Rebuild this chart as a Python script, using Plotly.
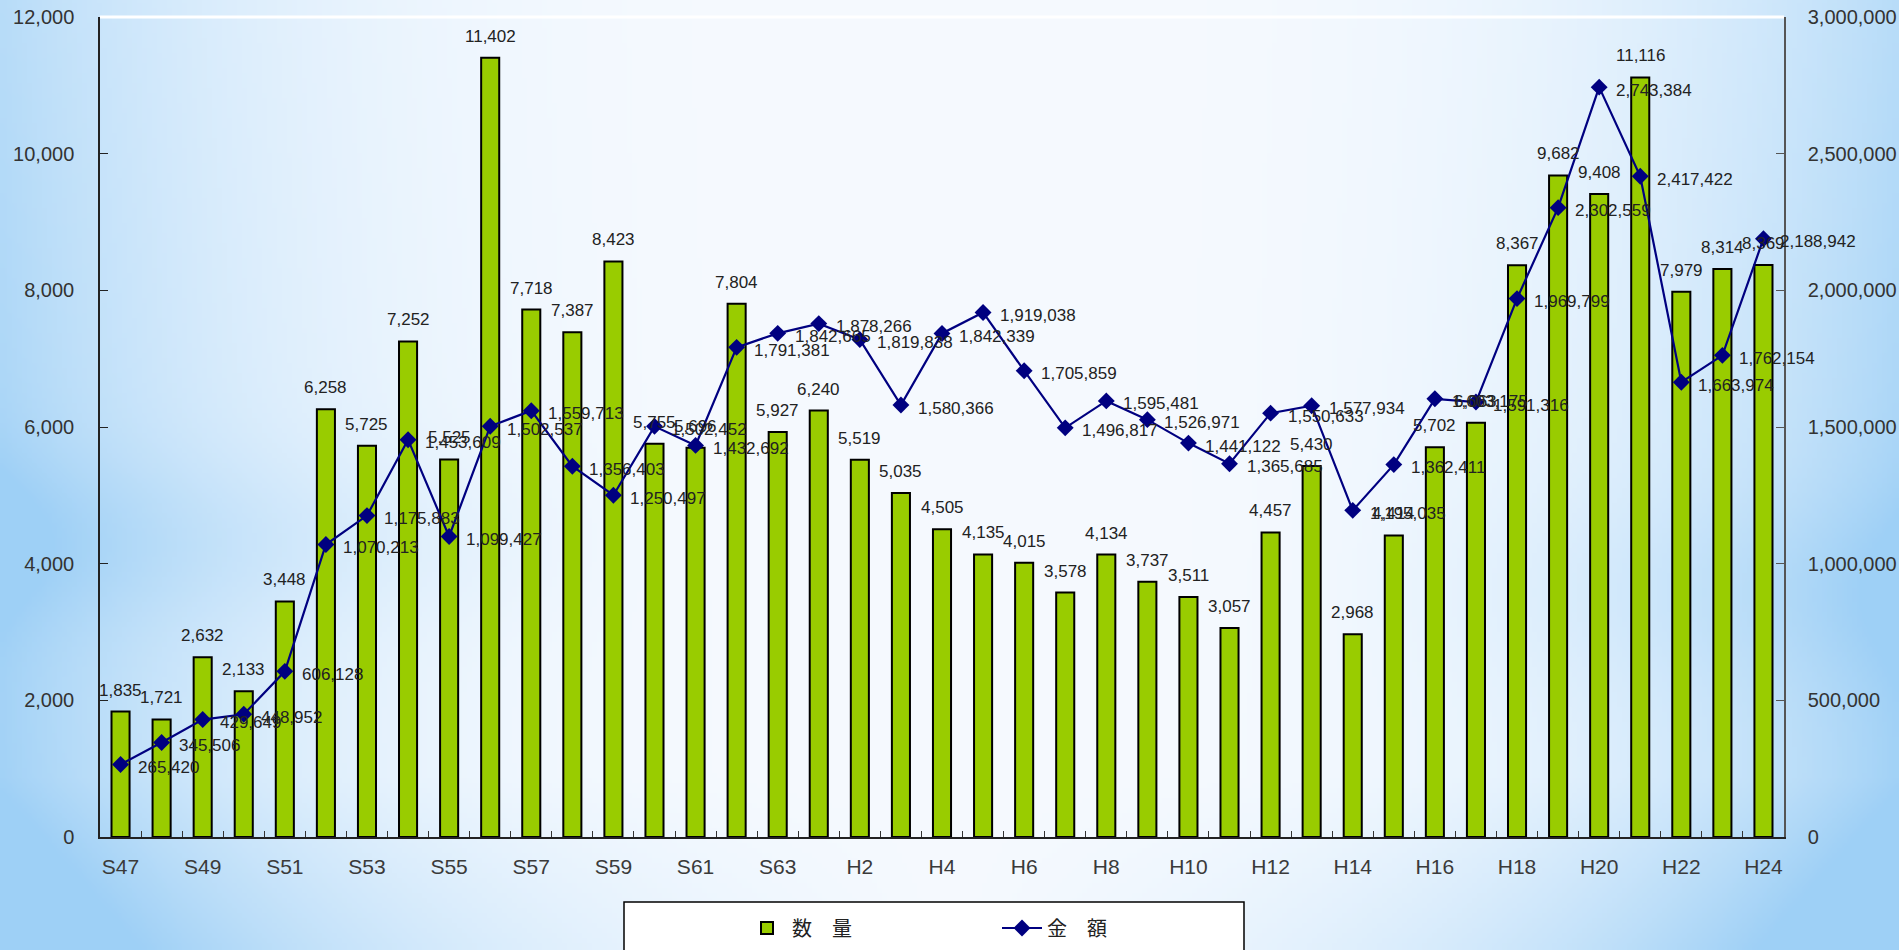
import zlib, struct, base64
import numpy as np
import plotly.graph_objects as go

# ---------------- data ----------------
categories = ['S47', 'S48', 'S49', 'S50', 'S51', 'S52', 'S53', 'S54', 'S55', 'S56',
              'S57', 'S58', 'S59', 'S60', 'S61', 'S62', 'S63',
              'H1', 'H2', 'H3', 'H4', 'H5', 'H6', 'H7', 'H8', 'H9', 'H10', 'H11', 'H12',
              'H13', 'H14', 'H15', 'H16', 'H17', 'H18', 'H19', 'H20', 'H21', 'H22', 'H23', 'H24']

quantity = [1835, 1721, 2632, 2133, 3448, 6258, 5725, 7252, 5525, 11402,
            7718, 7387, 8423, 5755, 5696, 7804, 5927,
            6240, 5519, 5035, 4505, 4135, 4015, 3578, 4134, 3737, 3511, 3057, 4457,
            5430, 2968, 4414, 5702, 6063, 8367, 9682, 9408, 11116, 7979, 8314, 8369]

amount = [265420, 345506, 429649, 448952, 606128, 1070213, 1175883, 1453609, 1099427, 1502537,
          1559713, 1356403, 1250497, 1502452, 1432692, 1791381, 1842665,
          1878266, 1819838, 1580366, 1842339, 1919038, 1705859, 1496817, 1595481, 1526971,
          1441122, 1365685, 1550633, 1577934, 1195035, 1362411, 1603175, 1591316, 1969799,
          2302559, 2743384, 2417422, 1663974, 1762154, 2188942]

series_names = ['数　量', '金　額']

# ---------------- background gradient (PNG data URI) ----------------
def png_data_uri(arr):
    h, w, _ = arr.shape
    raw = b''.join(b'\x00' + arr[r].tobytes() for r in range(h))

    def chunk(tag, data):
        c = struct.pack('>I', len(data)) + tag + data
        return c + struct.pack('>I', zlib.crc32(tag + data) & 0xffffffff)

    png = (b'\x89PNG\r\n\x1a\n'
           + chunk(b'IHDR', struct.pack('>IIBBBBB', w, h, 8, 2, 0, 0, 0))
           + chunk(b'IDAT', zlib.compress(raw, 9))
           + chunk(b'IEND', b''))
    return 'data:image/png;base64,' + base64.b64encode(png).decode()

W, H = 380, 190
u = np.linspace(0, 1, W)[None, :]
v = np.linspace(0, 1, H)[:, None]
t = np.abs(u - 0.5) * 2
f = (t ** 3.2) * (0.7 + 0.3 * v)
f = f + 0.28 * np.exp(-((v - 0.57) / 0.09) ** 2) * np.clip(1 - u / 0.35, 0, 1)
f = f + 0.22 * np.exp(-((v - 0.62) / 0.10) ** 2) * np.clip((u - 0.7) / 0.3, 0, 1)
f = f + 0.45 * np.clip((v - 0.82) / 0.18, 0, 1) * t
f = np.clip(f, 0, 1)
white = np.array([246, 250, 255], dtype=float)
blue = np.array([158, 208, 246], dtype=float)
img = (white[None, None, :] * (1 - f[..., None]) + blue[None, None, :] * f[..., None]).astype(np.uint8)
bg_uri = png_data_uri(img)

# ---------------- figure ----------------
FIG_W, FIG_H = 1899, 950
ML, MR, MT, MB = 100, 115, 17, 113
PW, PH = FIG_W - ML - MR, FIG_H - MT - MB

def px_x(p):
    return (p - ML) / PW

def px_y(p):
    return (FIG_H - MB - p) / PH

label_font = dict(family='Liberation Sans, Arial, sans-serif', size=17, color='#222222')
tick_font = dict(family='Liberation Sans, Arial, sans-serif', size=20, color='#333333')
xtick_font = dict(family='Liberation Sans, Arial, sans-serif', size=21, color='#3a3a3a')

fig = go.Figure()
fig.add_trace(go.Bar(
    x=categories, y=quantity, name=series_names[0], yaxis='y',
    marker=dict(color='#99cc00', line=dict(color='#000000', width=2)),
))
fig.add_trace(go.Scatter(
    x=categories, y=amount, name=series_names[1], yaxis='y2',
    mode='lines+markers',
    line=dict(color='#000080', width=2.2),
    marker=dict(symbol='diamond', size=13, color='#000080'),
))

for c, q in zip(categories, quantity):
    fig.add_annotation(x=c, y=q, xref='x', yref='y', text=f'{q:,}', showarrow=False,
                       yanchor='bottom', yshift=10, font=label_font)

for c, a in zip(categories, amount):
    fig.add_annotation(x=c, y=a, xref='x', yref='y2', text=f'{a:,}', showarrow=False,
                       xanchor='left', yanchor='middle', xshift=15, yshift=-3, font=label_font)

fig.update_layout(
    width=FIG_W, height=FIG_H,
    margin=dict(l=ML, r=MR, t=MT, b=MB, pad=0, autoexpand=False),
    paper_bgcolor='#f4f9fe', plot_bgcolor='rgba(0,0,0,0)',
    bargap=0.56,
    showlegend=True,
    legend=dict(orientation='h', x=px_x(742), y=px_y(928), xanchor='left', yanchor='middle',
                bgcolor='rgba(0,0,0,0)', borderwidth=0, entrywidth=200, entrywidthmode='pixels',
                font=dict(family='Noto Sans CJK JP, sans-serif', size=20, color='#222222'),
                itemwidth=40, traceorder='normal'),
    xaxis=dict(type='category', tickmode='array', tickvals=categories,
               ticktext=[c if i % 2 == 0 else '' for i, c in enumerate(categories)],
               tickson='boundaries', ticks='inside', ticklen=6, tickcolor='#333333',
               showline=True, linecolor='#222222', linewidth=1.5, showgrid=False,
               tickfont=xtick_font, ticklabelstandoff=10, tickangle=0, automargin=False,
               range=[-0.5, len(categories) - 0.5]),
    yaxis=dict(range=[0, 12000], dtick=2000, tickformat=',', ticks='inside', ticklen=8,
               tickcolor='#222222', showline=True, linecolor='#222222', linewidth=1.5,
               showgrid=False, zeroline=False, tickfont=tick_font, ticklabelstandoff=20,
               automargin=False),
    yaxis2=dict(range=[0, 3000000], dtick=500000, tickformat=',', overlaying='y', side='right',
                ticks='inside', ticklen=8, tickcolor='#555555', showline=True,
                linecolor='#555555', linewidth=1.5, showgrid=False, zeroline=False,
                tickfont=tick_font, ticklabelstandoff=18, automargin=False),
    images=[dict(source=bg_uri, xref='paper', yref='paper',
                 x=px_x(0), y=px_y(0), sizex=FIG_W / PW, sizey=FIG_H / PH,
                 xanchor='left', yanchor='top', sizing='stretch', layer='below')],
    shapes=[
        dict(type='line', xref='paper', yref='paper', x0=0, x1=1, y0=1, y1=1,
             line=dict(color='#ffffff', width=3), layer='below'),
        dict(type='rect', xref='paper', yref='paper', x0=px_x(624), x1=px_x(1244),
             y0=px_y(965), y1=px_y(902), fillcolor='#ffffff',
             line=dict(color='#000000', width=1.5), layer='below'),
    ],
)

fig.write_html('out.html', config={'displayModeBar': False},
               post_script="document.body.style.margin='0';document.body.style.overflow='hidden';")
